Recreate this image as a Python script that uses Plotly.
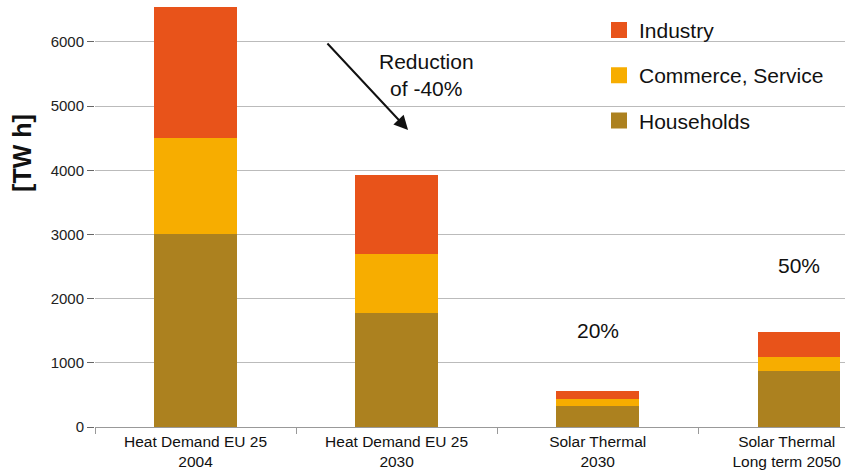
import plotly.graph_objects as go

categories = ["Heat Demand EU 25<br>2004", "Heat Demand EU 25<br>2030",
              "Solar Thermal<br>2030", "Solar Thermal<br>Long term 2050"]
households = [3000, 1780, 330, 880]
commerce = [1500, 920, 100, 210]
industry = [2050, 1230, 130, 390]
share_labels = ["", "", "20%", "50%"]
share_y = [None, None, 1510, 2510]
legend_order = ["Industry", "Commerce, Service", "Households"]

colors = {"Households": "#AC811F", "Commerce, Service": "#F7AD00", "Industry": "#E8531A"}

xpos = list(range(len(categories)))
label_pos = [0, 1, 2, 2.94]   # last label sits slightly left, as in the original

fig = go.Figure()
for name, vals in [("Households", households), ("Commerce, Service", commerce),
                   ("Industry", industry)]:
    fig.add_trace(go.Bar(x=xpos, y=vals, name=name, width=0.41,
                         marker=dict(color=colors[name], line=dict(width=0)),
                         showlegend=False, legendgroup=name))

# legend entries with larger square swatches
for name in legend_order:
    fig.add_trace(go.Scatter(x=[0], y=[None], mode="markers", name=name,
                             marker=dict(symbol="square", size=16, color=colors[name]),
                             legendgroup=name, showlegend=True, hoverinfo="skip"))

for xi, t, yv in zip(xpos, share_labels, share_y):
    if t:
        fig.add_annotation(x=xi, y=yv, text=t, showarrow=False,
                           font=dict(size=21, color="#111111"))

fig.add_annotation(x=1.147, y=5485, xref="x", yref="y", text="Reduction<br>of -40%",
                   showarrow=False, font=dict(size=21, color="#111111"))
fig.add_annotation(x=1.057, y=4630, ax=0.649, ay=6000, xref="x", yref="y",
                   axref="x", ayref="y", text="", showarrow=True,
                   arrowhead=2, arrowsize=1.4, arrowwidth=2, arrowcolor="#111111")

fig.add_annotation(x=-0.0973, y=0.642, xref="paper", yref="paper", text="<b>[TW h]</b>",
                   xanchor="center", yanchor="middle",
                   textangle=-90, showarrow=False, font=dict(size=25, color="#111111"))

fig.update_layout(
    width=845, height=470, barmode="stack",
    margin=dict(l=95, r=0, t=0, b=43, autoexpand=False),
    paper_bgcolor="white", plot_bgcolor="white",
    font=dict(family="Liberation Sans, Arial, sans-serif", color="#222222"),
    showlegend=True,
    legend=dict(x=0.672, y=0.977, xanchor="left", yanchor="top",
                traceorder="grouped", tracegroupgap=15, itemsizing="trace",
                font=dict(size=21, color="#111111"), bgcolor="rgba(0,0,0,0)"),
)
fig.update_xaxes(type="linear", range=[-0.5, 3.23],
                 tickvals=label_pos, ticktext=categories, ticks="", automargin=False,
                 minor=dict(tickvals=[-0.5, 0.5, 1.5, 2.5], ticks="outside", ticklen=6,
                            tickcolor="#999999", showgrid=False),
                 showline=True, linecolor="#999999", linewidth=1,
                 tickfont=dict(size=15.5, color="#111111"), showgrid=False, zeroline=False)
fig.update_yaxes(range=[0, 6654], tickvals=[0, 1000, 2000, 3000, 4000, 5000, 6000],
                 ticks="outside", ticklen=7, tickcolor="#666666", automargin=False,
                 showgrid=True, gridcolor="#BBBBBB", gridwidth=1,
                 zeroline=False, tickfont=dict(size=15, color="#222222"))

fig.write_html("out.html",
               config={"responsive": False, "displayModeBar": False},
               post_script="document.body.style.margin='0';document.body.style.overflow='hidden';")
